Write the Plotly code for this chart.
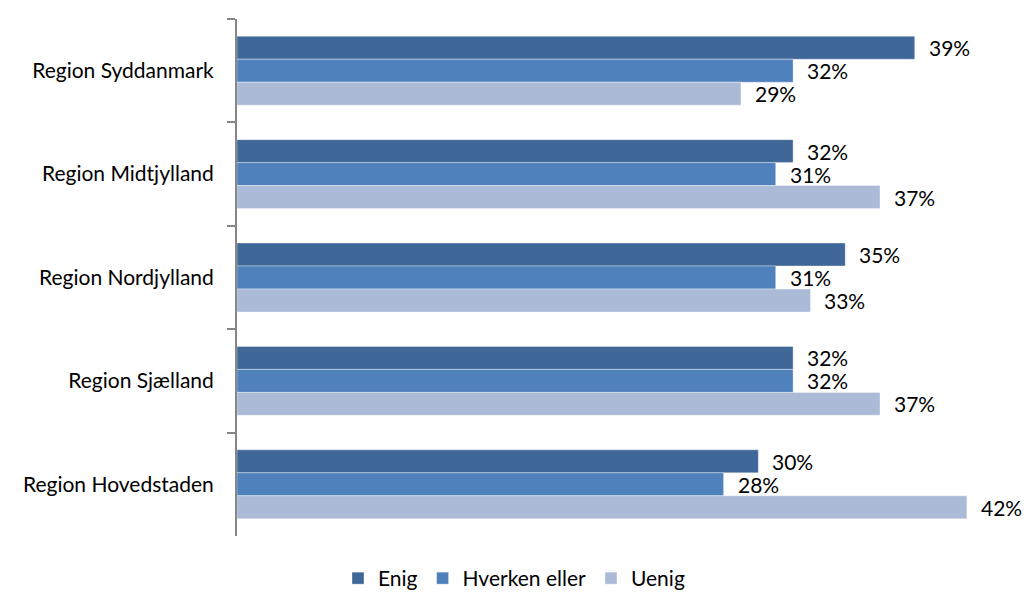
import plotly.graph_objects as go

# Regions (top to bottom) and share of answers per response group
regions = ["Region Syddanmark", "Region Midtjylland", "Region Nordjylland",
           "Region Sjælland", "Region Hovedstaden"]
series_names = ["Enig", "Hverken eller", "Uenig"]
enig = [39, 32, 35, 32, 30]
hverken = [32, 31, 31, 32, 28]
uenig = [29, 37, 33, 37, 42]

colors = ["#3F6797", "#4F81BD", "#AABAD7"]
values = [enig, hverken, uenig]
FONT = "Lato"
FS = 21
BARGAP = 1 / 3

fig = go.Figure()
for name, vals, col in zip(series_names, values, colors):
    fig.add_trace(go.Bar(
        y=regions, x=vals, name=name, orientation="h",
        marker=dict(color=col, line=dict(color="rgba(255,255,255,0.6)", width=0.6)),
        hoverinfo="skip",
    ))

# value labels to the right of each bar
n = len(values)
w = (1 - BARGAP) / n
annotations = []
for ti, vals in enumerate(values):
    off = -(1 - BARGAP) / 2 + w * (ti + 0.5)
    for ci, v in enumerate(vals):
        annotations.append(dict(
            x=v, y=ci + off, xref="x", yref="y", text=f"{v}%",
            showarrow=False, xanchor="left", yanchor="middle", xshift=12,
            font=dict(family=FONT, size=FS, color="#000000"),
        ))

fig.update_layout(
    width=1028, height=599,
    margin=dict(l=237, r=9, t=19, b=63),
    paper_bgcolor="white", plot_bgcolor="white",
    barmode="group", bargap=BARGAP, bargroupgap=0,
    font=dict(family=FONT, size=FS, color="#000000"),
    showlegend=True,
    legend=dict(orientation="h", xref="container", yref="container",
                x=0.5, xanchor="center", y=-0.014, yanchor="bottom",
                font=dict(family=FONT, size=FS), itemwidth=30,
                tracegroupgap=0, traceorder="normal"),
    annotations=annotations,
    xaxis=dict(range=[0, 45], visible=False, fixedrange=True),
    yaxis=dict(autorange="reversed", type="category",
               showline=True, linecolor="#868686", linewidth=2,
               ticks="outside", ticklen=8, tickcolor="#868686", tickwidth=2,
               tickson="boundaries", ticklabelstandoff=17,
               showgrid=False, zeroline=False),
)

fig.write_html("out.html")
